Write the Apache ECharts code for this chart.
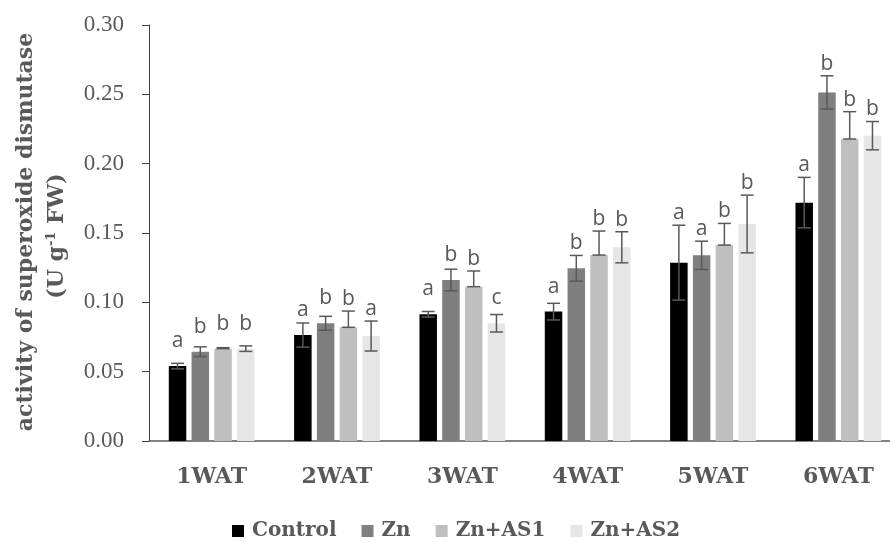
<!DOCTYPE html>
<html>
<head>
<meta charset="utf-8">
<script src="https://cdn.jsdelivr.net/npm/echarts@6/dist/echarts.min.js"></script>
<style>html,body{margin:0;padding:0;background:#fff}#c{width:890px;height:542px}</style>
</head>
<body>
<div id="c"></div>
<script>
var categories = ['1WAT', '2WAT', '3WAT', '4WAT', '5WAT', '6WAT'];
var seriesNames = ['Control', 'Zn', 'Zn+AS1', 'Zn+AS2'];
var yTicks = [0, 0.05, 0.10, 0.15, 0.20, 0.25, 0.30];

var control = [0.054, 0.0764, 0.0914, 0.0933, 0.1286, 0.1719];
var controlErrUp = [0.002, 0.0087, 0.002, 0.006, 0.027, 0.0182];
var controlErrDown = [0.002, 0.0087, 0.002, 0.006, 0.027, 0.0182];
var controlLetters = ['a', 'a', 'a', 'a', 'a', 'a'];

var zn = [0.0644, 0.0849, 0.1161, 0.1245, 0.1339, 0.2514];
var znErrUp = [0.0035, 0.005, 0.0078, 0.0093, 0.0102, 0.012];
var znErrDown = [0.0035, 0.005, 0.0078, 0.0093, 0.0102, 0.012];
var znLetters = ['b', 'b', 'b', 'b', 'a', 'b'];

var as1 = [0.0666, 0.082, 0.1113, 0.1341, 0.1413, 0.2178];
var as1ErrUp = [0.0007, 0.0117, 0.0113, 0.0173, 0.0156, 0.0197];
var as1ErrDown = [0, 0, 0, 0, 0, 0];
var as1Letters = ['b', 'b', 'b', 'b', 'b', 'b'];

var as2 = [0.0666, 0.0757, 0.0849, 0.1397, 0.1565, 0.2202];
var as2ErrUp = [0.002, 0.0108, 0.0063, 0.0112, 0.0208, 0.0102];
var as2ErrDown = [0.002, 0.0108, 0.0063, 0.0112, 0.0208, 0.0102];
var as2Letters = ['b', 'a', 'c', 'b', 'b', 'b'];

var colors = ['#000000', '#7f7f7f', '#bfbfbf', '#e7e6e6'];
var BAR_W = 17.5, GAP_RATIO = 0.3, CAP = 13;
var ERR_COLOR = '#595959';
var TXT = '#595959';

var values = [control, zn, as1, as2];
var ups = [controlErrUp, znErrUp, as1ErrUp, as2ErrUp];
var downs = [controlErrDown, znErrDown, as1ErrDown, as2ErrDown];
var letters = [controlLetters, znLetters, as1Letters, as2Letters];

var series = [];
values.forEach(function (vals, k) {
  series.push({
    type: 'bar', name: seriesNames[k], data: vals,
    barWidth: BAR_W, barGap: (GAP_RATIO * 100) + '%',
    itemStyle: { color: colors[k] }
  });
});
values.forEach(function (vals, k) {
  series.push({
    type: 'custom', name: 'err' + k, z: 10,
    data: vals.map(function (v, i) { return [i, v, ups[k][i], downs[k][i]]; }),
    renderItem: function (params, api) {
      var xi = api.value(0), v = api.value(1), u = api.value(2), d = api.value(3);
      var c = api.coord([xi, v]);
      var off = (k - 1.5) * BAR_W * (1 + GAP_RATIO);
      var cx = c[0] + off;
      var top = api.coord([xi, v + u])[1];
      var bot = api.coord([xi, v - d])[1];
      var h = CAP / 2;
      var st = { stroke: ERR_COLOR, lineWidth: 1.5 };
      var ly = Math.min(c[1] - 25, top - 12);
      return {
        type: 'group', children: [
          { type: 'line', shape: { x1: cx, y1: top, x2: cx, y2: bot }, style: st },
          { type: 'line', shape: { x1: cx - h, y1: top, x2: cx + h, y2: top }, style: st },
          { type: 'line', shape: { x1: cx - h, y1: bot, x2: cx + h, y2: bot }, style: st },
          { type: 'text', x: cx, y: ly, style: { text: letters[k][params.dataIndex], align: 'center', verticalAlign: 'middle', fill: TXT, font: '21px "Open Sans"' } }
        ]
      };
    }
  });
});

var chart = echarts.init(document.getElementById('c'), null, { renderer: 'canvas' });
chart.setOption({
  animation: false,
  backgroundColor: '#ffffff',
  grid: { left: 149, top: 25, width: 752, height: 416, outerBoundsMode: 'none', containLabel: false },
  legend: {
    data: seriesNames, left: 232, top: 521, padding: 0, icon: 'rect', itemWidth: 12, itemHeight: 12, itemGap: 25,
    textStyle: { fontFamily: 'DejaVu Serif', fontWeight: 'bold', fontSize: 20, color: TXT, padding: [0, 0, 0, 3] }
  },
  xAxis: {
    type: 'category', data: categories,
    axisLine: { lineStyle: { color: '#595959', width: 1.5 } },
    axisTick: { show: false },
    axisLabel: { margin: 25, fontFamily: 'DejaVu Serif', fontWeight: 'bold', fontSize: 22, color: TXT }
  },
  yAxis: {
    type: 'value', min: yTicks[0], max: yTicks[yTicks.length - 1], interval: yTicks[1] - yTicks[0],
    axisLine: { show: true, lineStyle: { color: '#404040', width: 1 } },
    axisTick: { show: true, length: 7, lineStyle: { color: '#404040' } },
    splitLine: { show: false },
    axisLabel: { margin: 25, fontFamily: 'Liberation Serif', fontSize: 23, color: TXT, formatter: function (v) { return v.toFixed(2); } }
  },
  graphic: [
    { type: 'text', x: 26, y: 232, rotation: Math.PI / 2, style: { text: 'activity of superoxide dismutase', align: 'center', verticalAlign: 'middle', fill: TXT, font: 'bold 22px "DejaVu Serif"' } },
    { type: 'text', x: 57, y: 236, rotation: Math.PI / 2, style: {
        text: '{n|(U g}{s|-1}{n| FW)}', align: 'center', verticalAlign: 'middle', fill: TXT,
        rich: { n: { font: 'bold 22px "DejaVu Serif"', fill: TXT, lineHeight: 24 }, s: { font: 'bold 13px "DejaVu Serif"', fill: TXT, verticalAlign: 'top', lineHeight: 24, padding: [0, 0, 8, 0] } }
      } }
  ],
  series: series
});
</script>
</body>
</html>
